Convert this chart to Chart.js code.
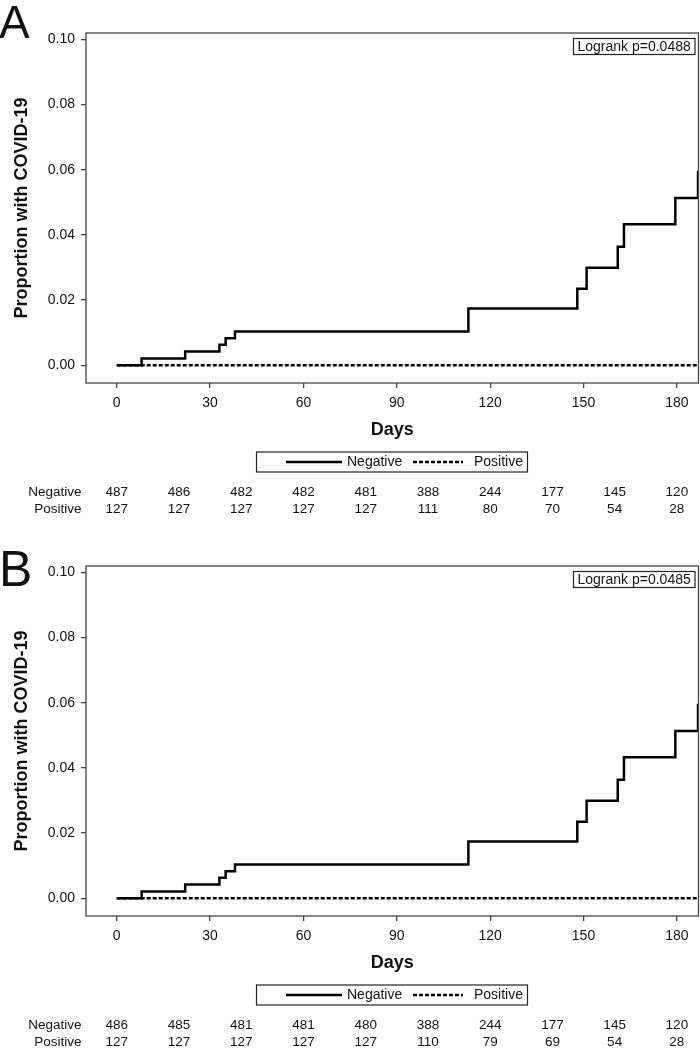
<!DOCTYPE html>
<html><head><meta charset="utf-8">
<script src="https://cdn.jsdelivr.net/npm/chart.js@4"></script>
<style>
html,body{margin:0;padding:0;background:#fff;overflow:hidden;}
#wrap{position:relative;width:700px;height:1049px;overflow:hidden;background:#fff;}
.pane{position:absolute;left:0;width:700px;height:532px;}
canvas{display:block;}
</style></head><body>
<div id="wrap">
<div class="pane" style="top:0"><canvas id="cA" width="700" height="532"></canvas></div>
<div class="pane" style="top:533px"><canvas id="cB" width="700" height="532"></canvas></div>
</div>
<script>
const seriesNames = ['Negative', 'Positive'];
const eventDaysA = [0, 8, 22, 33, 35, 38, 113, 148, 151, 161, 163, 179.5, 186.8];
const negativeA  = [0, 0.0021, 0.0042, 0.0063, 0.0083, 0.0104, 0.0174, 0.0235, 0.0299, 0.0364, 0.0433, 0.0513, 0.0597];
const eventDaysB = [0, 8, 22, 33, 35, 38, 113, 148, 151, 161, 163, 179.5, 186.8];
const negativeB  = [0, 0.0021, 0.0042, 0.0063, 0.0083, 0.0104, 0.0174, 0.0235, 0.0299, 0.0364, 0.0433, 0.0513, 0.0597];
const positiveDays = [0, 186.8];
const positiveA = [0, 0];
const positiveB = [0, 0];
const xTicks = [0, 30, 60, 90, 120, 150, 180];
const yTicks = [0, 0.02, 0.04, 0.06, 0.08, 0.10];
const riskDays = [0, 20, 40, 60, 80, 100, 120, 140, 160, 180];
const riskNegA = [487, 486, 482, 482, 481, 388, 244, 177, 145, 120];
const riskPosA = [127, 127, 127, 127, 127, 111, 80, 70, 54, 28];
const riskNegB = [486, 485, 481, 481, 480, 388, 244, 177, 145, 120];
const riskPosB = [127, 127, 127, 127, 127, 110, 79, 69, 54, 28];
const logrankA = 'Logrank p=0.0488';
const logrankB = 'Logrank p=0.0485';

const FONT = '"Liberation Sans", Arial, Helvetica, sans-serif';
const INK = '#111';
const FRAME = '#444';

function makeChart(id, letter, letterSize, letterBase, days, neg, pos, riskNeg, riskPos, logrank) {
  const extras = {
    id: 'extras',
    afterDraw(chart) {
      const ctx = chart.ctx;
      const a = chart.chartArea;
      const xs = chart.scales.x;
      ctx.save();
      // frame
      ctx.strokeStyle = FRAME; ctx.lineWidth = 1.3;
      ctx.strokeRect(a.left, a.top, a.right - a.left, a.bottom - a.top);
      // panel letter
      ctx.fillStyle = INK;
      ctx.font = letterSize + 'px ' + FONT;
      ctx.textAlign = 'left'; ctx.textBaseline = 'alphabetic';
      ctx.fillText(letter, -1, letterBase);
      // y title
      ctx.save();
      ctx.translate(22, (a.top + a.bottom) / 2);
      ctx.rotate(-Math.PI / 2);
      ctx.font = 'bold 18px ' + FONT;
      ctx.textAlign = 'center'; ctx.textBaseline = 'middle';
      ctx.fillText('Proportion with COVID-19', 0, 0);
      ctx.restore();
      // x title
      ctx.font = 'bold 18px ' + FONT;
      ctx.textAlign = 'center'; ctx.textBaseline = 'middle';
      ctx.fillText('Days', (a.left + a.right) / 2, 430);
      // logrank box
      ctx.font = '14px ' + FONT;
      ctx.textAlign = 'left'; ctx.textBaseline = 'middle';
      ctx.strokeStyle = '#222'; ctx.lineWidth = 1.2;
      ctx.strokeRect(573.5, 38.5, 121.5, 16);
      ctx.fillText(logrank, 577.5, 47);
      // legend
      ctx.strokeRect(256.5, 452, 271, 20);
      ctx.strokeStyle = '#000'; ctx.lineWidth = 2.5;
      ctx.beginPath(); ctx.moveTo(286, 462); ctx.lineTo(342, 462); ctx.stroke();
      ctx.setLineDash([4, 2]);
      ctx.beginPath(); ctx.moveTo(413, 462); ctx.lineTo(463, 462); ctx.stroke();
      ctx.setLineDash([]);
      ctx.fillText(chart.data.datasets[0].label, 347, 462);
      ctx.fillText(chart.data.datasets[1].label, 474, 462);
      // risk table
      ctx.font = '13.5px ' + FONT;
      ctx.textAlign = 'right';
      ctx.fillText(seriesNames[0], 81.5, 492.5);
      ctx.fillText(seriesNames[1], 81.5, 509);
      ctx.textAlign = 'center';
      riskDays.forEach((d, i) => {
        const px = xs.getPixelForValue(d);
        ctx.fillText(String(riskNeg[i]), px, 492.5);
        ctx.fillText(String(riskPos[i]), px, 509);
      });
      ctx.restore();
    }
  };
  const tickFont = { family: FONT, size: 14 };
  return new Chart(document.getElementById(id), {
    type: 'line',
    data: {
      datasets: [
        { label: seriesNames[0], data: days.map((d, i) => ({ x: d, y: neg[i] })),
          borderColor: '#000', borderWidth: 2.5, stepped: true, pointRadius: 0, fill: false },
        { label: seriesNames[1], data: positiveDays.map((d, i) => ({ x: d, y: pos[i] })),
          borderColor: '#000', borderWidth: 2.5, borderDash: [4, 2], pointRadius: 0, fill: false }
      ]
    },
    options: {
      responsive: false, animation: false, devicePixelRatio: 1,
      layout: { padding: { top: 33, left: 0, right: 1.5, bottom: 0 } },
      plugins: { legend: { display: false }, tooltip: { enabled: false } },
      scales: {
        x: {
          type: 'linear', min: -9.87, max: 186.95,
          afterBuildTicks: s => { s.ticks = xTicks.map(v => ({ value: v })); },
          afterFit: s => { s.height = 149; },
          grid: { drawOnChartArea: false, drawTicks: true, tickLength: 5, color: FRAME, lineWidth: 1.3 },
          border: { display: false },
          ticks: { font: tickFont, color: INK, padding: 7, maxRotation: 0, autoSkip: false }
        },
        y: {
          type: 'linear', min: -0.00543, max: 0.10193,
          afterBuildTicks: s => { s.ticks = yTicks.map(v => ({ value: v })); },
          afterFit: s => { s.width = 86; },
          grid: { drawOnChartArea: false, drawTicks: true, tickLength: 5, color: FRAME, lineWidth: 1.3 },
          border: { display: false },
          ticks: { font: tickFont, color: INK, padding: 6, autoSkip: false,
                   callback: v => Number(v).toFixed(2) }
        }
      }
    },
    plugins: [extras]
  });
}

makeChart('cA', 'A', 46, 37.5, eventDaysA, negativeA, positiveA, riskNegA, riskPosA, logrankA);
makeChart('cB', 'B', 50, 52.5, eventDaysB, negativeB, positiveB, riskNegB, riskPosB, logrankB);
</script>
</body></html>
